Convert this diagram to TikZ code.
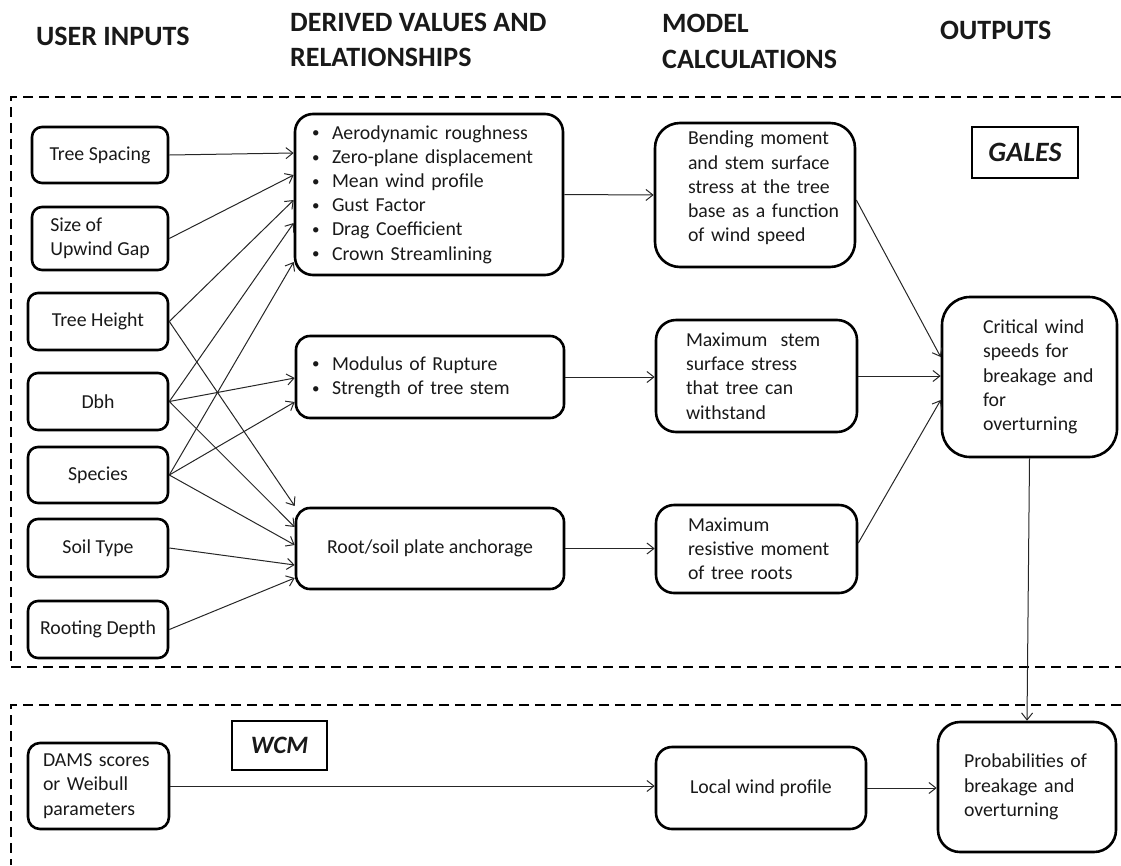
\documentclass[tikz,border=0pt]{standalone}
\usepackage{fontspec}
\setmainfont{Carlito}
\usetikzlibrary{arrows.meta,calc}
\newcommand\keepline[1]{\mbox{#1}}
\newcommand\bitem[1]{\mbox{\makebox[20pt][l]{\raisebox{1.2pt}{\fontsize{15}{15}\selectfont\textbullet}}#1}}
\begin{document}
\begin{tikzpicture}[x=1pt,y=-1pt,
  every node/.style={font=\fontsize{19.8}{24.2}\selectfont, text=black!90},
  rbox/.style={draw, line width=2.6pt, rounded corners=#1, inner sep=0pt},
  rbox/.default=10pt,
  sqbox/.style={draw, line width=2.6pt, inner sep=0pt, font=\fontsize{28}{30}\selectfont\bfseries\itshape},
  arr/.style={line width=1pt, draw=black!85, -{Straight Barb[length=7pt,width=11pt]}},
  head/.style={anchor=base west, inner sep=0pt, font=\fontsize{28}{34}\selectfont\bfseries},
  dashline/.style={line width=2.4pt, dash pattern=on 10pt off 6pt}]
\useasboundingbox (0,0) rectangle (1121,865);

% headings
\node[head] (h1) at (36,45) {USER INPUTS};
\node[head] (h2a) at (290,31) {DERIVED VALUES AND};
\node[head] (h2b) at (290,66) {RELATIONSHIPS};
\node[head] (h3a) at (662,32) {MODEL};
\node[head] (h3b) at (662,68) {CALCULATIONS};
\node[head] (h4) at (940,39) {OUTPUTS};

% dashed regions
\draw[dashline] (1121,97) -- (11,97) -- (11,667) -- (1121,667);
\draw[dashline] (1121,705) -- (11,705) -- (11,865);

% inputs
\node[rbox, minimum width=136pt, minimum height=56pt] (ts) at (100,155) {Tree Spacing};
\node[rbox, minimum width=136pt, minimum height=63pt, align=left] (ug) at (100,238.5) {Size of\\Upwind Gap};
\node[rbox, minimum width=140pt, minimum height=57pt] (th) at (98,321.5) {Tree Height};
\node[rbox, minimum width=140pt, minimum height=57pt] (dbh) at (98,401.5) {Dbh};
\node[rbox, minimum width=140pt, minimum height=56pt] (sp) at (98,475) {Species};
\node[rbox, minimum width=140pt, minimum height=58pt] (st) at (98,548) {Soil Type};
\node[rbox, minimum width=140pt, minimum height=57pt] (rd) at (98,629.5) {Rooting Depth};

% derived
\node[rbox=18pt, minimum width=268pt, minimum height=161pt, text width=234pt, inner xsep=17pt, align=left] (d1) at (429,194.5)
  {\bitem{Aerodynamic roughness}\\\bitem{Zero-plane displacement}\\\bitem{Mean wind profile}\\\bitem{Gust Factor}\\\bitem{Drag Coefficient}\\\bitem{Crown Streamlining}};
\node[rbox=14pt, minimum width=268pt, minimum height=82pt, text width=236pt, inner xsep=16pt, align=left] (d2) at (430,377)
  {\bitem{Modulus of Rupture}\\\bitem{Strength of tree stem}};
\node[rbox=14pt, minimum width=268pt, minimum height=81pt] (root) at (430,548.5) {Root/soil plate anchorage};

% model calculations
\node[rbox=25pt, minimum width=200pt, minimum height=144pt, text width=134pt, inner xsep=33pt, align=left] (bend) at (755,195)
  {\keepline{Bending moment}\\\keepline{and stem surface}\\\keepline{stress at the tree}\\\keepline{base as a function}\\\keepline{of wind speed}\par\vspace*{14pt}};
\node[rbox=20pt, minimum width=201pt, minimum height=112pt, text width=141pt, inner xsep=30pt, align=left] (mstem) at (756.5,376)
  {\keepline{Maximum\ \ stem}\\\keepline{surface stress}\\\keepline{that tree can}\\\keepline{withstand}};
\node[rbox=18pt, minimum width=201pt, minimum height=88pt, text width=137pt, inner xsep=32pt, align=left] (resist) at (756.5,549)
  {\keepline{Maximum}\\\keepline{resistive moment}\\\keepline{of tree roots}};

% outputs
\node[rbox=28pt, minimum width=175pt, minimum height=160pt, text width=93pt, inner xsep=41pt, align=left] (crit) at (1029.5,377)
  {\keepline{Critical wind}\\\keepline{speeds for}\\\keepline{breakage and}\\\keepline{for}\\\keepline{overturning}};
\node[sqbox, minimum width=106pt, minimum height=51pt] (gales) at (1025,152.5) {GALES};

% WCM part
\node[rbox=12pt, minimum width=141pt, minimum height=86pt, text width=111pt, inner xsep=15pt, align=left] (dams) at (98.5,786)
  {\keepline{DAMS scores}\\\keepline{or Weibull}\\\keepline{parameters}};
\node[sqbox, minimum width=95pt, minimum height=49pt, font=\fontsize{25}{28}\selectfont\bfseries\itshape] (wcm) at (279.5,745.5) {WCM};
\node[rbox=16pt, minimum width=210pt, minimum height=82pt] (local) at (761,788) {Local wind profile};
\node[rbox=22pt, minimum width=178pt, minimum height=130pt, text width=126pt, inner xsep=26pt, align=left] (prob) at (1027,787)
  {\keepline{Probabilities of}\\\keepline{breakage and}\\\keepline{overturning}};

% connectors: inputs -> derived
\draw[arr] (ts.east) -- (d1.west |- 0,153);
\draw[arr] (ug.east) -- (d1.west |- 0,175);
\draw[arr] (th.east) -- (d1.west |- 0,200);
\draw[arr] (dbh.east) -- (d1.west |- 0,223);
\draw[arr] (sp.east) -- (d1.west |- 0,262);
\draw[arr] (dbh.east) -- (d2.west |- 0,378);
\draw[arr] (sp.east) -- (d2.west |- 0,402);
\draw[arr] (th.east) -- (root.west |- 0,506);
\draw[arr] (dbh.east) -- (root.west |- 0,527);
\draw[arr] (sp.east) -- (root.west |- 0,545);
\draw[arr] (st.east) -- (root.west |- 0,565);
\draw[arr] (rd.east) -- (root.west |- 0,578);

% derived -> model
\draw[arr] (d1.east) -- (bend.west);
\draw[arr] (d2.east) -- (mstem.west |- d2.east);
\draw[arr] (root.east) -- (resist.west |- root.east);

% model -> outputs
\draw[arr] (bend.east |- 0,200) -- (crit.west |- 0,357);
\draw[arr] (mstem.east) -- (crit.west |- mstem.east);
\draw[arr] (resist.east |- 0,543) -- (crit.west |- 0,400);
\draw[arr] (crit.south) -- (prob.north);

% WCM
\draw[arr] (dams.east) -- (local.west |- dams.east);
\draw[arr] (local.east) -- (prob.west |- local.east);
\end{tikzpicture}
\end{document}
